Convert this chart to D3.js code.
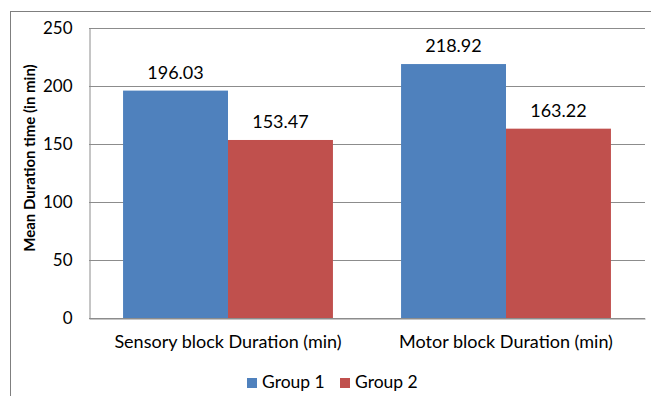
<!DOCTYPE html>
<html>
<head>
<meta charset="utf-8">
<script src="https://cdn.jsdelivr.net/npm/d3@7"></script>
<style>
  html, body { margin: 0; padding: 0; background: #fff; }
  svg { display: block; font-family: Lato, "Open Sans", sans-serif; }
</style>
</head>
<body>
<svg id="chart" width="651" height="396"></svg>
<script>
// Mean block durations per group
const categories = ["Sensory block Duration (min)", "Motor block Duration (min)"];
const seriesNames = ["Group 1", "Group 2"];
const group1 = [196.03, 218.92];
const group2 = [153.47, 163.22];
const yTicks = [0, 50, 100, 150, 200, 250];
const colors = ["#4F81BD", "#C0504D"];

const svg = d3.select("#chart");
const W = 651, H = 396;
const m = { left: 89, right: 6, top: 28, bottom: 78 };
const FONT = "Lato, 'Open Sans', sans-serif";

// Outer chart frame
svg.append("rect")
  .attr("x", 10.5).attr("y", 11.5)
  .attr("width", W + 20).attr("height", H + 20)
  .attr("fill", "none").attr("stroke", "#7f7f7f").attr("stroke-width", 1);

const x0 = d3.scaleBand().domain(categories)
  .range([m.left, W - m.right]).paddingInner(0.245).paddingOuter(0.1225);
const x1 = d3.scaleBand().domain(seriesNames).range([0, x0.bandwidth()]);
const y = d3.scaleLinear().domain([0, 250]).range([H - m.bottom, m.top]);

// Gridlines
svg.append("g").selectAll("line").data(yTicks).join("line")
  .attr("x1", m.left).attr("x2", W - m.right)
  .attr("y1", d => Math.round(y(d)) + 0.5).attr("y2", d => Math.round(y(d)) + 0.5)
  .attr("stroke", "#8c8c8c").attr("stroke-width", 1);

// Y axis
const yAxis = svg.append("g")
  .attr("transform", `translate(${m.left + 0.5},0)`)
  .call(d3.axisLeft(y).tickValues(yTicks).tickSize(0).tickPadding(17));
yAxis.select(".domain").attr("stroke", "#8c8c8c");
yAxis.selectAll("text").attr("font-size", 17).attr("fill", "#000")
  .attr("font-family", FONT);

// Bars
const rows = categories.map((c, i) => ({ cat: c, vals: [group1[i], group2[i]] }));
const groups = svg.append("g").selectAll("g").data(rows).join("g")
  .attr("transform", d => `translate(${x0(d.cat)},0)`);

groups.selectAll("rect").data(d => d.vals.map((v, j) => ({ name: seriesNames[j], v, j })))
  .join("rect")
  .attr("x", d => x1(d.name))
  .attr("y", d => y(d.v))
  .attr("width", x1.bandwidth())
  .attr("height", d => y(0) - y(d.v))
  .attr("fill", d => colors[d.j]);

groups.selectAll("text").data(d => d.vals.map((v, j) => ({ name: seriesNames[j], v, j })))
  .join("text")
  .attr("x", d => x1(d.name) + x1.bandwidth() / 2)
  .attr("y", d => y(d.v) - 12)
  .attr("text-anchor", "middle")
  .attr("font-size", 18).attr("fill", "#000")
  .text(d => d3.format(".2f")(d.v));

// X axis
const xAxis = svg.append("g")
  .attr("transform", `translate(0,${Math.round(y(0)) + 0.5})`)
  .call(d3.axisBottom(x0).tickSize(0));
xAxis.select(".domain").attr("stroke", "#8c8c8c");
xAxis.selectAll("text").attr("font-size", 18).attr("fill", "#000")
  .attr("font-family", FONT).attr("dy", null).attr("y", 29.5);

// Y axis title
svg.append("text")
  .attr("transform", `translate(35,158) rotate(-90)`)
  .attr("text-anchor", "middle")
  .attr("font-size", 15).attr("font-weight", "bold").attr("fill", "#000")
  .text("Mean Duration time (in min)");

// Legend
const legend = svg.append("g").attr("transform", "translate(247,388)");
const legendX = [0, 93];
seriesNames.forEach((n, i) => {
  const g = legend.append("g").attr("transform", `translate(${legendX[i]},0)`);
  g.append("rect").attr("x", 0).attr("y", -10).attr("width", 10).attr("height", 10)
    .attr("fill", colors[i]);
  g.append("text").attr("x", 15).attr("y", 0)
    .attr("font-size", 17.5).attr("fill", "#000").text(n);
});
</script>
</body>
</html>
